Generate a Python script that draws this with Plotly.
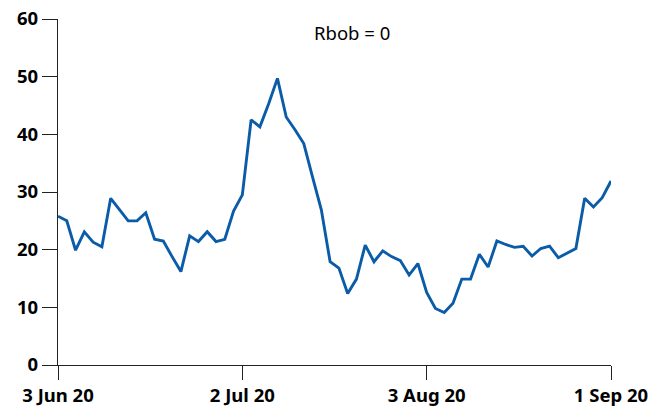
import pandas as pd
import plotly.graph_objects as go

# Business days 3 Jun 2020 - 1 Sep 2020 (US holiday 3 Jul excluded)
dates = [d for d in pd.bdate_range("2020-06-03", "2020-09-01") if d != pd.Timestamp("2020-07-03")]
categories = [d.strftime("%-d %b %y") for d in dates]

values = [
    25.8, 25.0, 19.9, 23.1, 21.3, 20.5, 28.9, 27.0, 25.0, 25.0,
    26.4, 21.8, 21.5, 18.8, 16.2, 22.4, 21.4, 23.1, 21.4, 21.8,
    26.7, 29.5, 42.5, 41.3, 45.3, 49.7, 43.0, 40.8, 38.4, 32.6,
    26.9, 17.9, 16.8, 12.4, 14.9, 20.8, 17.9, 19.8, 18.8, 18.1,
    15.6, 17.6, 12.6, 9.8, 9.1, 10.7, 14.9, 14.9, 19.2, 17.0,
    21.5, 20.9, 20.4, 20.6, 18.9, 20.2, 20.6, 18.6, 19.4, 20.2,
    28.9, 27.4, 29.0, 31.9,
]

tick_labels = ["3 Jun 20", "2 Jul 20", "3 Aug 20", "1 Sep 20"]
y_ticks = [0, 10, 20, 30, 40, 50, 60]
title_text = "Rbob = 0"

FONT = "Noto Sans"

fig = go.Figure(
    go.Scatter(
        x=categories, y=values, mode="lines",
        line=dict(color="#0A5CA8", width=2.9),
        hoverinfo="skip",
    )
)

fig.update_layout(
    width=669, height=407,
    margin=dict(l=58, r=58, t=19, b=42),
    paper_bgcolor="white", plot_bgcolor="white",
    showlegend=False,
    font=dict(family=FONT, color="#000000"),
    annotations=[dict(
        text=title_text, x=0.532, y=57.6, xref="paper", yref="y",
        showarrow=False, font=dict(size=18.5, family=FONT, color="#000000"),
    )],
)

fig.update_xaxes(
    type="category", range=[0, len(categories) - 1], automargin=False,
    tickmode="array", tickvals=[categories[0], categories[21], categories[42], categories[63]],
    ticktext=tick_labels,
    showline=True, linecolor="#222222", linewidth=1.2,
    ticks="outside", ticklen=14, tickwidth=1.2, tickcolor="#222222",
    showgrid=False, zeroline=False,
    tickfont=dict(size=18.5, family=FONT, weight="bold", color="#000000"),
)
fig.update_yaxes(
    range=[0, 60], tickmode="array", tickvals=y_ticks, automargin=False,
    showline=True, linecolor="#222222", linewidth=1.2,
    ticks="outside", ticklen=15, tickwidth=1.2, tickcolor="#222222",
    showgrid=False, zeroline=False,
    tickfont=dict(size=18.5, family=FONT, weight="bold", color="#000000"),
)

fig.write_html("out.html")
